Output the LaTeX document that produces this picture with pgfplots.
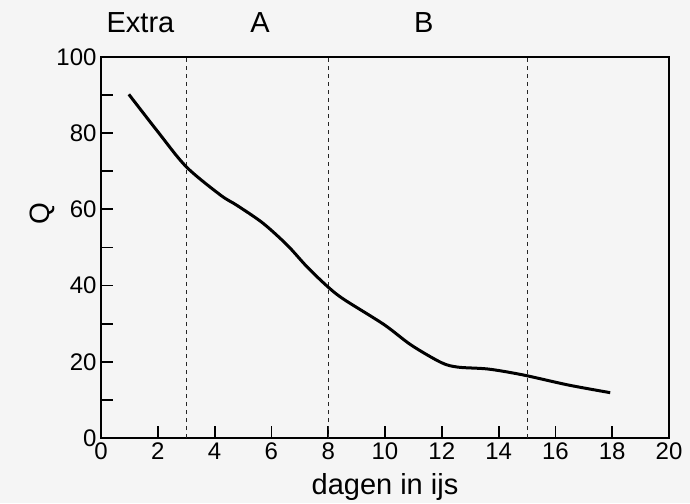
\documentclass[border=0pt]{standalone}
\usepackage{fontspec}
\setmainfont{Liberation Sans}
\usepackage{pgfplots}
\pgfplotsset{compat=1.18}
\definecolor{bgc}{RGB}{245,245,245}
\begin{document}
\begin{tikzpicture}
\fill[bgc] (-101pt,-65pt) rectangle (589pt,438pt);
\useasboundingbox (-101pt,-65pt) rectangle (589pt,438pt);
\begin{axis}[
  at={(0,0)}, anchor=south west,
  scale only axis,
  width=568pt, height=381pt,
  xmin=0, xmax=20, ymin=0, ymax=100,
  xtick={0,2,...,20},
  ytick={0,20,...,100},
  minor ytick={10,30,...,90},
  tick pos=left,
  tick align=inside,
  major tick length=12pt,
  minor tick length=12pt,
  every tick/.style={black, line width=1.8pt},
  axis line style={line width=2.6pt},
  /pgf/number format/assume math mode=true,
  ticklabel style={font=\fontsize{24}{26}\selectfont},
  xticklabel style={yshift=-1pt},
  yticklabel style={xshift=-1pt},
  clip=false,
]
\addplot[black!85, line width=0.9pt, dash pattern=on 4pt off 4pt] coordinates {(3,0) (3,100)};
\addplot[black!85, line width=0.9pt, dash pattern=on 4pt off 4pt] coordinates {(8,0) (8,100)};
\addplot[black!85, line width=0.9pt, dash pattern=on 4pt off 4pt] coordinates {(15,0) (15,100)};
\addplot[black, line width=3pt, smooth, tension=0.5] coordinates {
 (0.98,90.2) (2,80.4) (3,71.2) (4.2,63.8) (4.8,61) (5.7,56.4) (6.56,50.6)
 (7.27,44.8) (8,39.6) (8.55,36.4) (9.96,29.8) (10.92,24.4) (11.98,19.8)
 (12.57,18.6) (13.63,18.1) (14.83,16.6) (16.46,13.9) (17.93,11.9)
};
\node[anchor=base, font=\fontsize{29}{32}\selectfont] at (axis cs:1.39,100) [yshift=24pt] {Extra};
\node[anchor=base, font=\fontsize{29}{32}\selectfont] at (axis cs:5.6,100) [yshift=24pt] {A};
\node[anchor=base, font=\fontsize{29}{32}\selectfont] at (axis cs:11.37,100) [yshift=24pt] {B};
\node[anchor=base, font=\fontsize{29}{32}\selectfont] at (rel axis cs:0.5,0) [yshift=-56pt] {dagen in ijs};
\node[rotate=90, font=\fontsize{28}{30}\selectfont] at (rel axis cs:-0.104,0.588) {Q};
\end{axis}
\end{tikzpicture}
\end{document}
